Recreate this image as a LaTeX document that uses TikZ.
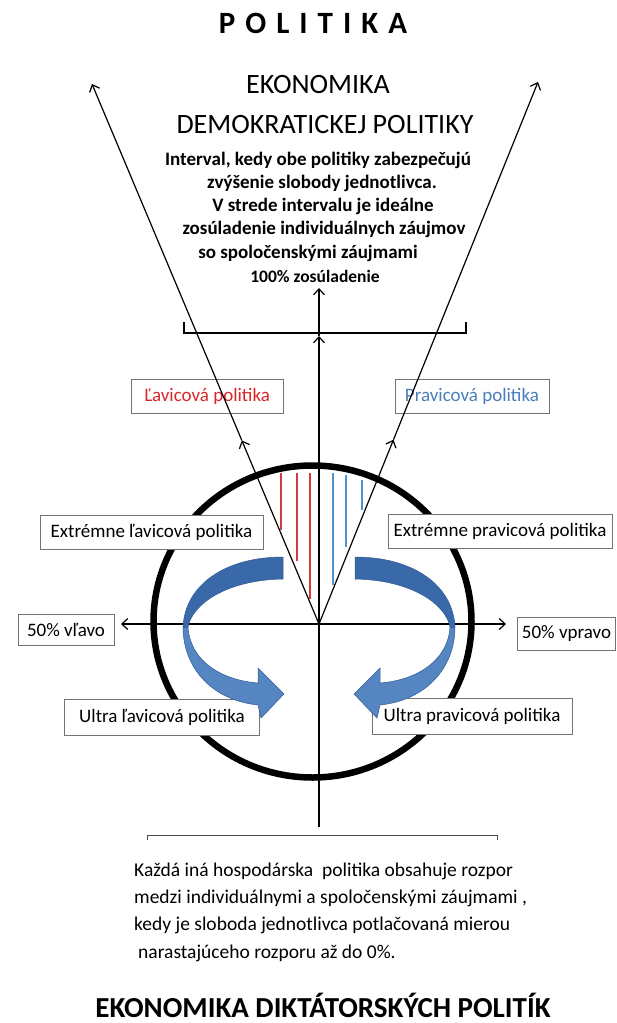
\documentclass[tikz,border=0pt]{standalone}
\usepackage{fontspec}
\setmainfont{Carlito}
\usetikzlibrary{arrows.meta,calc}

\definecolor{levared}{HTML}{D9262B}
\definecolor{pravablue}{HTML}{4A7EBB}
\definecolor{hatchred}{HTML}{D43A3A}
\definecolor{hatchblue}{HTML}{4F94CD}
\definecolor{ribbondark}{HTML}{3A69AA}
\definecolor{ribbonlight}{HTML}{5686C2}
\definecolor{ribbonline}{HTML}{2F5B94}

\tikzset{
  pbox/.style={draw=black!55, fill=white, line width=0.8pt, inner sep=0pt,
    minimum height=34pt, font=\fontsize{19}{22}\selectfont},
  arr/.style={-{Straight Barb[length=6pt,width=11pt]}, line width=1.2pt},
  txt/.style={inner sep=0pt, anchor=base},
}

\begin{document}
\begin{tikzpicture}[x=1pt,y=-1pt]
  \useasboundingbox (0,0) rectangle (616,1023);
  \def\ribbon{    \filldraw[fill=ribbonlight, draw=ribbonline, line width=0.5pt]
      (183,627) .. controls (183,666) and (210,700) .. (258,705)
      -- (261,718) -- (284,694) -- (258,668) -- (258,683)
      .. controls (220,680) and (190,660) .. (188,627) -- cycle;
    \filldraw[fill=ribbondark, draw=ribbonline, line width=0.5pt]
      (283,557) .. controls (225,557) and (185,585) .. (183,627)
      -- (188,627) .. controls (192,605) and (225,580) .. (283,579) -- cycle;
}
  % titles
  \node[txt, font=\bfseries\fontsize{31}{36}\selectfont] (politika) at (313,33)
    {P\hspace{10pt}O\hspace{10pt}L\hspace{10pt}I\hspace{10pt}T\hspace{10pt}I\hspace{10pt}K\hspace{10pt}A};
  \node[txt, font=\fontsize{28}{32}\selectfont] (ekon) at (318,93) {EKONOMIKA};
  \node[txt, font=\fontsize{28}{32}\selectfont] (demo) at (325,133) {DEMOKRATICKEJ POLITIKY};
  \foreach \i/\x/\y/\t in {1/318/165/{Interval, kedy obe politiky zabezpečujú},
      2/322/188/{zvýšenie slobody jednotlivca.},
      3/323/211/{V strede intervalu je ideálne},
      4/324/234/{zosúladenie individuálnych záujmov},
      5/308/258/{so spoločenskými záujmami}}
    \node[txt, font=\bfseries\fontsize{19}{23}\selectfont] (interval\i) at (\x,\y) {\t};
  \node[txt, font=\bfseries\fontsize{17.5}{21}\selectfont] (zosul) at (315,282) {100\% zosúladenie};

  % kruh
  \draw[line width=6.5pt] (312.5,621.5) ellipse [x radius=159pt, y radius=156pt];

  % boxy
  \node[pbox, minimum width=152pt, text=levared] (lava) at (207,396) {Ľavicová politika};
  \node[pbox, minimum width=154pt, text=pravablue] (prava) at (472,396) {Pravicová politika};
  \node[pbox, minimum width=223pt] (extl) at (151.5,532.5) {Extrémne ľavicová politika};
  \node[pbox, minimum width=224pt] (extp) at (500,531) {Extrémne pravicová politika};
  \node[pbox, minimum width=96pt, minimum height=31pt] (l50) at (66,629.5) {50\% vľavo};
  \node[pbox, minimum width=98pt, minimum height=33pt] (p50) at (566.5,633.5) {50\% vpravo};
  \node[pbox, minimum width=195pt, minimum height=36pt] (ultl) at (162,717) {Ultra ľavicová politika};
  \node[pbox, minimum width=200pt, minimum height=36pt] (ultp) at (472,716) {Ultra pravicová politika};

  % osi
  \coordinate (o) at (319,624);
  \coordinate (ltip) at (92,84);
  \coordinate (rtip) at (538,82);
  \coordinate (lmid) at ($(o)!0.34!(ltip)$);
  \coordinate (rmid) at ($(o)!0.34!(rtip)$);
  \coordinate (dole) at (319,827);
  \coordinate (vmid) at (319,336);
  \coordinate (vtip) at (319,288);
  \coordinate (lx) at (121,624);
  \coordinate (px) at (506,624);
  \draw[arr] (o) -- (lmid);
  \draw[arr] (lmid) -- (ltip);
  \draw[arr] (o) -- (rmid);
  \draw[arr] (rmid) -- (rtip);
  \draw[arr] (dole) -- (vmid);
  \draw[arr] (vmid) -- (vtip);
  \draw[arr] (o) -- (lx);
  \draw[arr] (o) -- (px);

  % zatvorky
  \draw[line width=1.2pt] (184,322) -- (184,333) -- (466,333) -- (466,322);
  \draw[line width=1pt, black!70] (147,840) -- (147,835) -- (497,835) -- (497,840);

  % srafovanie
  \foreach \x/\yb in {281/530, 297/561, 310/599}
    \draw[hatchred, line width=1.5pt] (\x,473) -- (\x,\yb);
  \foreach \x/\yt/\yb in {333/473/585, 346/475/547, 362/480/510}
    \draw[hatchblue, line width=1.5pt] (\x,\yt) -- (\x,\yb);

  % sipky
  \begin{scope}
    \ribbon
  \end{scope}
  \begin{scope}[shift={(638,0)}, xscale=-1]
    \ribbon
  \end{scope}

  % dolny text
  \foreach \i/\x/\y/\t in {1/134/876/{Každá iná hospodárska\ \ politika obsahuje rozpor},
      2/134/903/{medzi individuálnymi a spoločenskými záujmami ,},
      3/134/930/{kedy je sloboda jednotlivca potlačovaná mierou},
      4/138/958/{narastajúceho rozporu až do 0\%.}}
    \node[txt, anchor=base west, font=\fontsize{19.5}{23}\selectfont] (rozpor\i) at (\x,\y) {\t};
  \node[txt, font=\bfseries\fontsize{29}{33}\selectfont] (dikt) at (323,1017) {EKONOMIKA DIKTÁTORSKÝCH POLITÍK};
\end{tikzpicture}
\end{document}
